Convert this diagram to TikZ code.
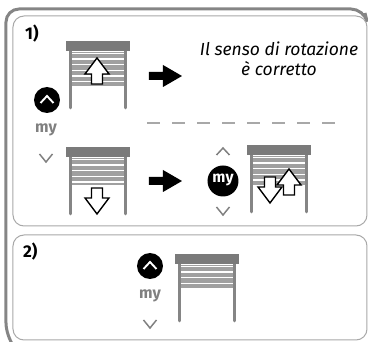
\documentclass[tikz,border=0pt]{standalone}
\usepackage{fontspec}
\setmainfont{Fira Sans}
\definecolor{framegray}{HTML}{858585}
\definecolor{panelgray}{HTML}{A8A8A8}
\definecolor{headgray}{HTML}{7A7A7A}
\definecolor{postgray}{HTML}{858585}
\definecolor{slatgray}{HTML}{A0A0A0}
\definecolor{labelgray}{HTML}{808080}
\tikzset{
  panel/.style={draw=panelgray,line width=1pt,rounded corners=11pt},
  outerframe/.style={draw=framegray,line width=3pt,rounded corners=13pt},
  shead/.style={fill=headgray,draw=none},
  spost/.style={draw=postgray,line width=2.8pt,line cap=round},
  sslat/.style={draw=white,line width=1.3pt},
  hollow/.style={draw=black,fill=white,line width=1.4pt,line join=miter},
  solidarrow/.style={fill=black,draw=none},
  chevgray/.style={draw=labelgray,line width=1.5pt,line join=miter},
  chevwhite/.style={draw=white,line width=1.9pt,line join=miter},
  btn/.style={circle,fill=black,draw=none,inner sep=0pt},
  mygray/.style={text=labelgray,font=\fontsize{16}{16}\selectfont\bfseries,inner sep=0pt},
  mywhite/.style={text=white,font=\fontsize{15.5}{15.5}\selectfont\bfseries,inner sep=0pt},
  steplabel/.style={font=\fontsize{17}{17}\selectfont\bfseries,inner sep=0pt,anchor=base west},
  note/.style={font=\fontsize{17.5}{20.5}\selectfont\itshape,align=center,inner sep=0pt},
  sep/.style={draw=panelgray,line width=2pt,dash pattern=on 13pt off 12pt}
}
% #1 left of head, #2 top of head, #3 height of the slat block
\newcommand{\shutterat}[3]{%
  \fill[slatgray] (#1+5,#2+11) rectangle (#1+59,#2+#3);
  \foreach \k in {0,...,6}{\draw[sslat] (#1+5,#2+12.5+5.6*\k) -- (#1+59,#2+12.5+5.6*\k);}
  \draw[spost] (#1+4.5,#2+9) -- (#1+4.5,#2+67);
  \draw[spost] (#1+59.5,#2+9) -- (#1+59.5,#2+67);
  \fill[shead] (#1,#2) rectangle (#1+64,#2+10);
}
% #1 x centre, #2 tip y, #3 dir (1 = tip at top, -1 = tip at bottom)
\newcommand{\hollowarrow}[3]{%
  \draw[hollow] (#1,#2) -- (#1+12,#2+#3*16) -- (#1+5.5,#2+#3*16) -- (#1+5.5,#2+#3*26)
   -- (#1-5.5,#2+#3*26) -- (#1-5.5,#2+#3*16) -- (#1-12,#2+#3*16) -- cycle;
}
\newcommand{\blackarrow}[2]{%
  \fill[solidarrow] (#1,#2-4) -- (#1+14,#2-4) -- (#1+14,#2-11) -- (#1+33,#2) -- (#1+14,#2+11) -- (#1+14,#2+4) -- (#1,#2+4) -- cycle;
}
\newcommand{\chevup}[3]{\draw[#3] (#1-6.5,#2+4) -- (#1,#2-3) -- (#1+6.5,#2+4);}
\newcommand{\chevdn}[3]{\draw[#3] (#1-6.5,#2-4) -- (#1,#2+4) -- (#1+6.5,#2-4);}
\begin{document}
\begin{tikzpicture}[x=1pt,y=-1pt]
\useasboundingbox (0,0) rectangle (368,342);
% outer frame, open on the right and bottom
\draw[outerframe] (365,13) -- (364,9) -- (6,9) -- (6,336) -- (12,344);
% panels
\draw[panel] (13,16) rectangle (367,226);
\draw[panel] (13,235) rectangle (367,340);
% labels
\node[steplabel] (one) at (25,40) {1)};
\node[steplabel] (two) at (23,258) {2)};
\node[note] (msg) at (279,59) {Il senso di rotazione\\è corretto};
% shutters
\shutterat{66}{41}{45}
\shutterat{66}{147}{38}
\shutterat{247}{145}{41}
\shutterat{175}{254}{36}
% hollow arrows
\hollowarrow{97}{58}{1}
\hollowarrow{97}{214}{-1}
\hollowarrow{270}{203}{-1}
\hollowarrow{289}{169}{1}
% solid arrows
\blackarrow{149}{76}
\blackarrow{149}{181}
% separator
\draw[sep] (147,123.5) -- (337,123.5);
% remote 1
\node[btn,minimum size=26pt] (upa) at (47,100) {};
\chevup{47}{99}{chevwhite}
\node[mygray] (mya) at (46,130) {my};
\chevdn{46}{158}{chevgray}
% remote 2
\chevup{223}{151}{chevgray}
\node[btn,minimum size=31pt] (myb) at (223,181) {};
\node[mywhite] (mybt) at (223,180) {my};
\chevdn{223}{211}{chevgray}
% remote 3
\node[btn,minimum size=26pt] (upc) at (150,266) {};
\chevup{150}{265}{chevwhite}
\node[mygray] (myc) at (150,296) {my};
\chevdn{150}{324}{chevgray}
\end{tikzpicture}
\end{document}
